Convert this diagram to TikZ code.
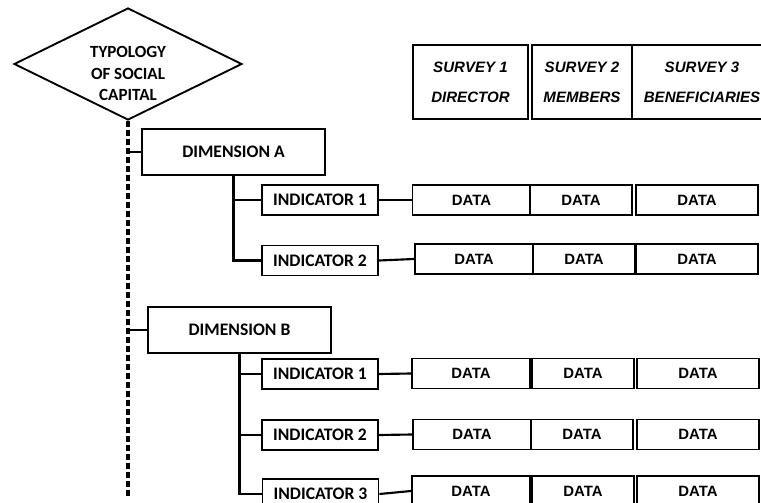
\documentclass[tikz,border=0pt]{standalone}
\usepackage{fontspec}
\usepackage{xcolor}
\usetikzlibrary{shapes.geometric}

\newfontfamily\labelfont{Carlito}
\newfontfamily\tablefont{Liberation Sans}

\tikzset{
  box/.style={draw, line width=1.4pt, inner sep=0pt,
    font=\labelfont\bfseries\fontsize{13.2}{15}\selectfont},
  dimbox/.style={box, minimum width=137.25pt, minimum height=34.5pt},
  indbox/.style={box, minimum width=87pt, minimum height=22.5pt},
  databox/.style={draw, line width=1.4pt, inner sep=0pt, minimum height=22.5pt,
    font=\tablefont\bfseries\fontsize{11.2}{13}\selectfont},
  surveybox/.style={draw, line width=1.4pt, inner sep=0pt, minimum height=55.5pt,
    align=center, font=\tablefont\bfseries\itshape\fontsize{11.3}{22.5}\selectfont},
  link/.style={line width=1.6pt},
  spine/.style={line width=2.4pt, dash pattern=on 4.5pt off 2.25pt},
}

\begin{document}
\begin{tikzpicture}
[x=0.75pt,y=0.75pt,yscale=-1,xscale=1]
\useasboundingbox (0,0) rectangle (761,503);
\clip (0,0) rectangle (761,503);

% typology diamond
\node [diamond, draw, line width=1.4pt, inner sep=0pt, minimum width=171pt, minimum height=84pt] (typology) at (128,64) {};
\node [align=center, font=\labelfont\bfseries\fontsize{12.8}{15.8}\selectfont] (typologytext) at (128,73.5) {TYPOLOGY\\OF SOCIAL\\CAPITAL};

% survey header
\node [surveybox, minimum width=86.25pt] (survey1) at (470.5,82) {SURVEY 1\\DIRECTOR};
\node [surveybox, minimum width=75pt] (survey2) at (582,82) {SURVEY 2\\MEMBERS};
\node [surveybox, minimum width=105pt] (survey3) at (702,82) {SURVEY 3\\BENEFICIARIES};

% dimensions
\node [dimbox] (dimA) at (233.5,152) {DIMENSION A};
\node [dimbox] (dimB) at (239.5,330) {DIMENSION B};

% indicators
\node [indbox] (indA1) at (320,200) {INDICATOR 1};
\node [indbox] (indA2) at (320,260.5) {INDICATOR 2};
\node [indbox] (indB1) at (320,374) {INDICATOR 1};
\node [indbox] (indB2) at (320,435) {INDICATOR 2};
\node [indbox] (indB3) at (320.5,494) {INDICATOR 3};

% data cells
\foreach \row/\y/\xa/\xb/\xc in {A1/200/471.5/581/697, A2/259/474/584/697, B1/373.5/471/583/698, B2/434.5/472/582/698, B3/491/471/583/698}
{
  \node [databox, minimum width=88.5pt] (data\row-1) at (\xa,\y) {DATA};
  \node [databox, minimum width=76.5pt] (data\row-2) at (\xb,\y) {DATA};
  \node [databox, minimum width=91.5pt] (data\row-3) at (\xc,\y) {DATA};
}

% dashed spine with its branches
\coordinate (spineend) at (128,496);
\draw [spine] (typology.south) -- (spineend);
\draw [link] (dimA.west -| spineend) -- (dimA.west);
\draw [link] (dimB.west -| spineend) -- (dimB.west);

% dimension -> indicators
\draw [link] (dimA.south) -- (dimA.south |- indA2.west) -- (indA2.west);
\draw [link] (dimA.south |- indA1.west) -- (indA1.west);
\draw [link] (dimB.south) -- (dimB.south |- indB3.west) -- (indB3.west);
\draw [link] (dimB.south |- indB1.west) -- (indB1.west);
\draw [link] (dimB.south |- indB2.west) -- (indB2.west);

% indicator -> data
\foreach \row in {A1,A2,B1,B2,B3}
  \draw [link] (ind\row.east) -- (data\row-1.west);

\end{tikzpicture}
\end{document}
